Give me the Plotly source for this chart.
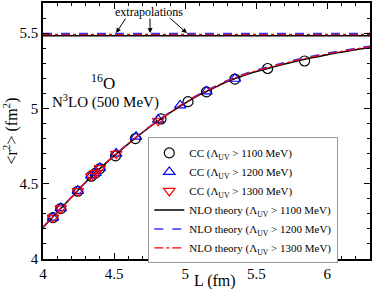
import plotly.graph_objects as go

# CC data points
L_cc1100 = [4.07, 4.125, 4.245, 4.34, 4.37, 4.40, 4.51, 4.65, 4.83, 5.02, 5.15, 5.35, 5.58, 5.84]
r2_cc1100 = [4.275, 4.335, 4.45, 4.55, 4.57, 4.60, 4.685, 4.80, 4.93, 5.045, 5.11, 5.195, 5.265, 5.315]
L_cc1200 = [4.07, 4.125, 4.245, 4.34, 4.37, 4.40, 4.515, 4.655, 4.81, 4.965, 5.15, 5.35]
r2_cc1200 = [4.275, 4.338, 4.453, 4.553, 4.571, 4.605, 4.70, 4.812, 4.925, 5.02, 5.113, 5.197]
L_cc1300 = [4.07, 4.125, 4.245, 4.34, 4.37, 4.40, 4.515, 4.81]
r2_cc1300 = [4.275, 4.336, 4.451, 4.551, 4.570, 4.603, 4.698, 4.918]

# NLO theory curves
L_th = [4.0, 4.1, 4.2, 4.3, 4.4, 4.5, 4.6, 4.7, 4.8, 4.9, 5.0, 5.1, 5.2, 5.3, 5.4, 5.5, 5.6, 5.7, 5.8, 5.9, 6.0, 6.1, 6.2, 6.3]
r2_th1100 = [4.21, 4.31, 4.41, 4.51, 4.60, 4.685, 4.765, 4.84, 4.91, 4.975, 5.035, 5.09, 5.135, 5.18, 5.215, 5.245, 5.27, 5.295, 5.318, 5.338, 5.357, 5.374, 5.39, 5.403]
r2_th1200 = [4.21, 4.31, 4.41, 4.51, 4.60, 4.686, 4.767, 4.843, 4.913, 4.979, 5.04, 5.096, 5.142, 5.187, 5.223, 5.254, 5.28, 5.305, 5.328, 5.348, 5.367, 5.384, 5.4, 5.413]
r2_th1300 = [4.21, 4.31, 4.41, 4.51, 4.60, 4.686, 4.766, 4.842, 4.912, 4.977, 5.038, 5.093, 5.139, 5.184, 5.219, 5.25, 5.275, 5.3, 5.323, 5.343, 5.362, 5.379, 5.395, 5.408]

# extrapolated values
L_ext = [4.0, 6.3]
ext1100 = 5.482
ext1200 = 5.498
ext1300 = 5.490

# arrow positions for the "extrapolations" label (tip L, tail L)
arrow_tips = [4.514, 4.754, 5.012]
arrow_tails = [4.588, 4.752, 4.885]

SERIF = "Liberation Serif"
fig = go.Figure()

fig.add_trace(go.Scatter(x=L_ext, y=[ext1100] * 2, mode="lines", line=dict(color="black", width=1.5), showlegend=False))
fig.add_trace(go.Scatter(x=L_ext, y=[ext1300] * 2, mode="lines", line=dict(color="red", width=1.5, dash="dashdot"), showlegend=False))
fig.add_trace(go.Scatter(x=L_ext, y=[ext1200] * 2, mode="lines", line=dict(color="#3333ff", width=1.5, dash="dash"), showlegend=False))

fig.add_trace(go.Scatter(x=L_cc1100, y=r2_cc1100, mode="markers", name="CC (Λ<sub>UV</sub> > 1100 MeV)",
                         marker=dict(symbol="circle-open", size=10, color="black", line=dict(width=1.2))))
fig.add_trace(go.Scatter(x=L_cc1200, y=r2_cc1200, mode="markers", name="CC (Λ<sub>UV</sub> > 1200 MeV)",
                         marker=dict(symbol="triangle-up-open", size=10, color="blue", line=dict(width=1.2))))
fig.add_trace(go.Scatter(x=L_cc1300, y=r2_cc1300, mode="markers", name="CC (Λ<sub>UV</sub> > 1300 MeV)",
                         marker=dict(symbol="triangle-down-open", size=10, color="red", line=dict(width=1.2))))
fig.add_trace(go.Scatter(x=L_th, y=r2_th1100, mode="lines", line_shape="spline", name="NLO theory (Λ<sub>UV</sub> > 1100 MeV)",
                         line=dict(color="black", width=1.5)))
fig.add_trace(go.Scatter(x=L_th, y=r2_th1200, mode="lines", line_shape="spline", name="NLO theory (Λ<sub>UV</sub> > 1200 MeV)",
                         line=dict(color="#3333ff", width=1.5, dash="dash")))
fig.add_trace(go.Scatter(x=L_th, y=r2_th1300, mode="lines", line_shape="spline", name="NLO theory (Λ<sub>UV</sub> > 1300 MeV)",
                         line=dict(color="red", width=1.2, dash="dashdot")))

axis_common = dict(showgrid=False, zeroline=False, showline=True, linecolor="black", linewidth=1.5,
                   mirror="allticks", ticks="inside", ticklen=6, tickwidth=1, tickcolor="black",
                   tickfont=dict(family=SERIF, size=15, color="black"),
                   minor=dict(ticks="inside", ticklen=3, tickcolor="black"))

fig.update_xaxes(range=[4, 6.3], dtick=0.5, tick0=4, minor_dtick=0.1, **axis_common)
fig.update_yaxes(range=[4, 5.7], dtick=0.5, tick0=4, minor_dtick=0.1,
                 title=dict(text="&lt;r<sup>2</sup>&gt; (fm<sup>2</sup>)", font=dict(family=SERIF, size=16, color="black"), standoff=4),
                 **axis_common)

annots = [
    dict(x=0.525, y=-0.085, xref="paper", yref="paper", xanchor="center", yanchor="middle", text="L (fm)", showarrow=False,
         font=dict(family=SERIF, size=16, color="black")),
    dict(x=0.325, y=0.965, xref="paper", yref="paper", xanchor="center", yanchor="middle", text="extrapolations", showarrow=False,
         font=dict(family=SERIF, size=12, color="black")),
    dict(x=0.185, y=0.69, xref="paper", yref="paper", xanchor="center", yanchor="middle", text="<sup>16</sup>O", showarrow=False,
         font=dict(family=SERIF, size=17, color="black")),
    dict(x=0.191, y=0.615, xref="paper", yref="paper", xanchor="center", yanchor="middle", text="N<sup>3</sup>LO (500 MeV)", showarrow=False,
         font=dict(family=SERIF, size=15, color="black")),
]
for tip_x, tail_x in zip(arrow_tips, arrow_tails):
    annots.append(dict(x=tip_x, y=5.5, xref="x", yref="y", ax=tail_x, ay=5.607, axref="x", ayref="y",
                       text="", showarrow=True, arrowhead=2, arrowsize=1, arrowwidth=1, arrowcolor="black"))

fig.update_layout(
    width=374, height=289,
    margin=dict(l=43, r=4, t=3, b=30, autoexpand=False),
    plot_bgcolor="white", paper_bgcolor="white",
    annotations=annots,
    legend=dict(x=0.322, y=0.475, xanchor="left", yanchor="top",
                bgcolor="white", bordercolor="#999999", borderwidth=1,
                font=dict(family=SERIF, size=11, color="black"),
                tracegroupgap=0, itemwidth=30),
)

fig.write_html("out.html", config={"displayModeBar": False},
               post_script="document.body.style.margin='0';document.body.style.padding='0';")
